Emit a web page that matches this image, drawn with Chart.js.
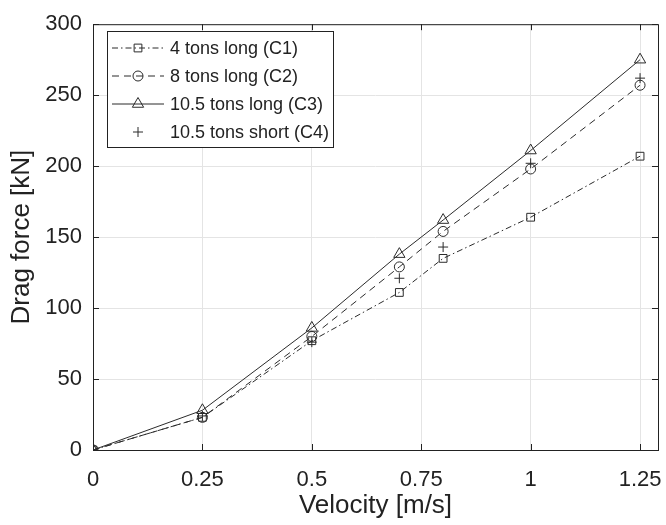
<!DOCTYPE html>
<html>
<head>
<meta charset="utf-8">
<script src="https://cdn.jsdelivr.net/npm/chart.js@4"></script>
<style>
    html, body { margin: 0; padding: 0; background: #fff; }
    #wrap { width: 666px; height: 525px; }
</style>
</head>
<body>
<div id="wrap"><canvas id="chart" width="666" height="525"></canvas></div>
<script>
// data
const velocity = [0, 0.25, 0.5, 0.7, 0.8, 1.0, 1.25];
const c1 = [0, 23, 77, 111, 135, 164, 207];
const c2 = [0, 23, 80, 129, 154, 198, 257];
const c3 = [0, 28, 86, 138, 162, 211, 275];
const c4 = [0, 24, 76, 121, 143, 202, 262];

const seriesLabels = ["4 tons long (C1)", "8 tons long (C2)", "10.5 tons long (C3)", "10.5 tons short (C4)"];
const xTicks = [0, 0.25, 0.5, 0.75, 1, 1.25];
const yTicks = [0, 50, 100, 150, 200, 250, 300];

const FONT = "'Liberation Sans', Arial, sans-serif";
const INK = "#222";

function pts(ys) {
    return velocity.map((v, i) => ({ x: v, y: ys[i] }));
}

const styles = [
    { dash: [6, 3, 1.5, 3], point: "rect", r: 5.5, line: true },
    { dash: [7, 5], point: "circle", r: 5, line: true },
    { dash: [], point: "triangle", r: 6.5, line: true },
    { dash: [], point: "cross", r: 5, line: false },
];

const datasets = [c1, c2, c3, c4].map((ys, i) => ({
    label: seriesLabels[i],
    data: pts(ys),
    borderColor: "#2b2b2b",
    borderWidth: 1,
    borderDash: styles[i].dash,
    showLine: styles[i].line,
    pointStyle: styles[i].point,
    pointRadius: styles[i].r,
    pointBorderColor: "#2b2b2b",
    pointBackgroundColor: "rgba(0,0,0,0)",
    pointBorderWidth: 1,
    tension: 0,
}));

// box around the plot plus inward tick marks, like the source figure
const boxPlugin = {
    id: "box",
    afterDraw(chart) {
        const { ctx, chartArea: a, scales } = chart;
        ctx.save();
        ctx.strokeStyle = INK;
        ctx.lineWidth = 1;
        ctx.strokeRect(a.left + 0.5, a.top + 0.5, a.right - a.left, a.bottom - a.top);
        const t = 6;
        ctx.beginPath();
        xTicks.forEach(v => {
            const x = Math.round(scales.x.getPixelForValue(v)) + 0.5;
            ctx.moveTo(x, a.bottom); ctx.lineTo(x, a.bottom - t);
            ctx.moveTo(x, a.top); ctx.lineTo(x, a.top + t);
        });
        yTicks.forEach(v => {
            const y = Math.round(scales.y.getPixelForValue(v)) + 0.5;
            ctx.moveTo(a.left, y); ctx.lineTo(a.left + t, y);
            ctx.moveTo(a.right, y); ctx.lineTo(a.right - t, y);
        });
        ctx.stroke();
        ctx.restore();
    },
};

// legend with line sample + marker (Chart.js legend only shows one)
function drawMarker(ctx, style, r, x, y) {
    ctx.beginPath();
    if (style === "rect") {
        const s = r * Math.SQRT1_2;
        ctx.rect(x - s, y - s, 2 * s, 2 * s);
    } else if (style === "circle") {
        ctx.arc(x, y, r, 0, Math.PI * 2);
    } else if (style === "triangle") {
        for (let k = 0; k < 3; k++) {
            const ang = k * 2 * Math.PI / 3;
            const px = x + Math.sin(ang) * r, py = y - Math.cos(ang) * r;
            if (k === 0) ctx.moveTo(px, py); else ctx.lineTo(px, py);
        }
        ctx.closePath();
    } else if (style === "cross") {
        ctx.moveTo(x - r, y); ctx.lineTo(x + r, y);
        ctx.moveTo(x, y - r); ctx.lineTo(x, y + r);
    }
    ctx.stroke();
}

const legendPlugin = {
    id: "boxLegend",
    afterDraw(chart) {
        const { ctx } = chart;
        const bx = 107, by = 31, bw = 226, bh = 116;
        ctx.save();
        ctx.fillStyle = "#fff";
        ctx.fillRect(bx, by, bw, bh);
        ctx.strokeStyle = INK;
        ctx.lineWidth = 1;
        ctx.strokeRect(bx + 0.5, by + 0.5, bw, bh);
        ctx.font = "18px " + FONT;
        ctx.textBaseline = "middle";
        chart.data.datasets.forEach((ds, i) => {
            const y = by + 17 + i * 28;
            const st = styles[i];
            ctx.strokeStyle = "#2b2b2b";
            ctx.lineWidth = 1;
            if (st.line) {
                ctx.setLineDash(st.dash);
                ctx.beginPath();
                ctx.moveTo(112, y); ctx.lineTo(164, y);
                ctx.stroke();
                ctx.setLineDash([]);
            }
            drawMarker(ctx, st.point, st.r, 138, y);
            ctx.fillStyle = INK;
            ctx.fillText(ds.label, 170, y + 1);
        });
        ctx.restore();
    },
};

new Chart(document.getElementById("chart"), {
    type: "scatter",
    data: { datasets },
    options: {
        responsive: false,
        animation: false,
        layout: { padding: { top: 19, right: 8, left: 0, bottom: 0 } },
        plugins: { legend: { display: false }, tooltip: { enabled: false } },
        scales: {
            x: {
                type: "linear",
                min: 0,
                max: 1.291,
                afterBuildTicks: s => { s.ticks = xTicks.map(v => ({ value: v })); },
                afterFit: s => { s.height = 75; s.paddingRight = 0; s.paddingLeft = 0; },
                grid: { color: "#e4e4e4", drawTicks: false },
                border: { display: false },
                ticks: {
                    color: INK, padding: 17,
                    font: { family: FONT, size: 22 },
                    maxRotation: 0,
                    callback: v => String(v),
                },
                title: {
                    display: true, text: "Velocity [m/s]", color: INK,
                    font: { family: FONT, size: 26 },
                    padding: { top: 4, bottom: 4 },
                },
            },
            y: {
                min: 0,
                max: 300,
                afterBuildTicks: s => { s.ticks = yTicks.map(v => ({ value: v })); },
                afterFit: s => { s.width = 93; },
                grid: { color: "#e4e4e4", drawTicks: false },
                border: { display: false },
                ticks: {
                    color: INK, padding: 11,
                    font: { family: FONT, size: 22 },
                },
                title: {
                    display: true, text: "Drag force [kN]", color: INK,
                    font: { family: FONT, size: 26 },
                    padding: { top: 6, bottom: 6 },
                },
            },
        },
    },
    plugins: [boxPlugin, legendPlugin],
});
</script>
</body>
</html>
